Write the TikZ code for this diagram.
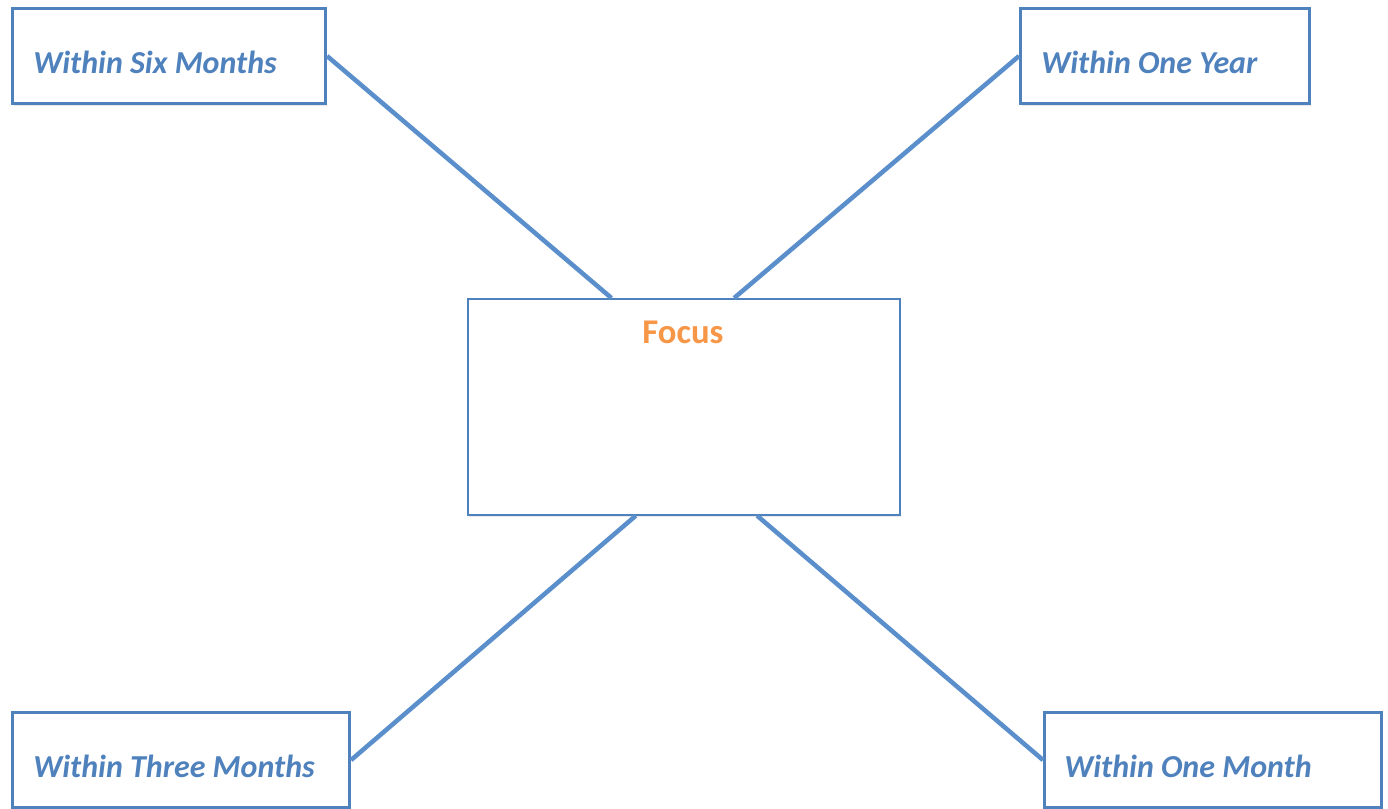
\documentclass[tikz,border=0pt]{standalone}
\usepackage{fontspec}
\setmainfont{Carlito}
\usetikzlibrary{positioning, calc, shadows}

\definecolor{boxblue}{RGB}{79,129,189}
\definecolor{lineblue}{RGB}{91,143,203}
\definecolor{focusorange}{RGB}{247,150,70}

\tikzset{
  termbox/.style={rectangle, draw=boxblue, line width=2.3pt, fill=white, inner sep=0pt,
    anchor=north west, minimum height=71.25pt,
    drop shadow={shadow xshift=1pt, shadow yshift=-1.5pt, opacity=0.18}},
  termtext/.style={text=boxblue, font=\bfseries\itshape\fontsize{24}{28}\selectfont,
    anchor=base west, inner sep=0pt},
  spoke/.style={draw=lineblue, line width=3.4pt},
}

\begin{document}
\begin{tikzpicture}[x=0.75pt, y=-0.75pt]
        \useasboundingbox (0,0) rectangle (1388,809);

        % Central focus box
        \node[rectangle, draw=boxblue, line width=1.3pt, fill=white, inner sep=0pt, anchor=north west,
              minimum width=324pt, minimum height=162pt,
              drop shadow={shadow xshift=1pt, shadow yshift=-1.5pt, opacity=0.18}] (focus) at (467,298) {};
        \node[text=focusorange, font=\bfseries\fontsize{26}{30}\selectfont, anchor=base, inner sep=0pt]
              (focustext) at (683,343) {Focus};

        % Time frame boxes
        \node[termbox, minimum width=234.75pt] (six) at (11,7) {};
        \node[termbox, minimum width=216.75pt] (year) at (1019,7) {};
        \node[termbox, minimum width=252.75pt] (three) at (11,711) {};
        \node[termbox, minimum width=252.75pt] (month) at (1043,711) {};

        \node[termtext] (sixtext) at (33,74) {Within Six Months};
        \node[termtext] (yeartext) at (1041,74) {Within One Year};
        \node[termtext] (threetext) at (33,777) {Within Three Months};
        \node[termtext] (monthtext) at (1064,777) {Within One Month};

        % Where the spokes meet the focus box
        \coordinate (ftl) at ($(focus.north west)!0.333!(focus.north east)$);
        \coordinate (ftr) at ($(focus.north west)!0.616!(focus.north east)$);
        \coordinate (fbl) at ($(focus.south west)!0.389!(focus.south east)$);
        \coordinate (fbr) at ($(focus.south west)!0.669!(focus.south east)$);

        % Spokes
        \draw[spoke] (six.east) -- (ftl);
        \draw[spoke] (year.west) -- (ftr);
        \draw[spoke] (three.east) -- (fbl);
        \draw[spoke] (month.west) -- (fbr);
\end{tikzpicture}
\end{document}
